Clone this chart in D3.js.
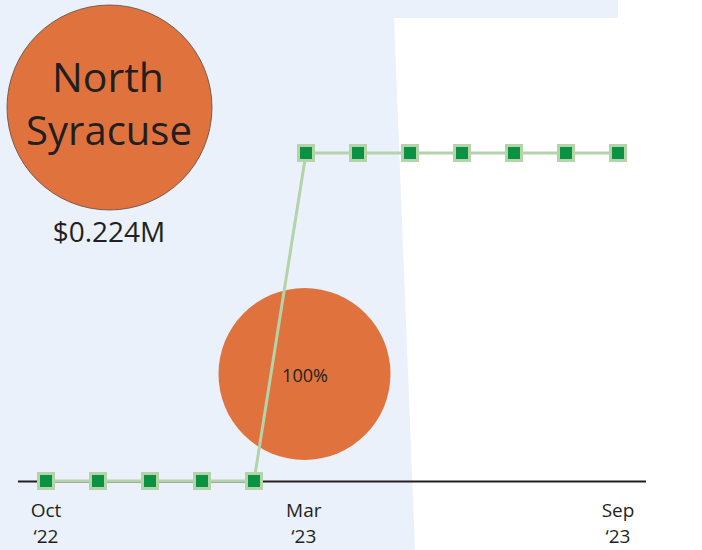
<!DOCTYPE html>
<html>
<head>
<meta charset="utf-8">
<script src="https://cdn.jsdelivr.net/npm/d3@7"></script>
<style>
  html, body { margin: 0; padding: 0; background: #ffffff; }
  svg { display: block; font-family: "Open Sans", "Noto Sans", sans-serif; }
</style>
</head>
<body>
<svg id="chart" width="702" height="550"></svg>
<script>
// Monthly cumulative amount (in $M) for North Syracuse, Oct '22 – Sep '23
const months = ["2022-10", "2022-11", "2022-12", "2023-01", "2023-02", "2023-03",
                "2023-04", "2023-05", "2023-06", "2023-07", "2023-08", "2023-09"];
const values = [0, 0, 0, 0, 0, 0.224, 0.224, 0.224, 0.224, 0.224, 0.224, 0.224];
const tickMonths = ["2022-10", "2023-03", "2023-09"];
const tickLabels = [["Oct", "\u201822"], ["Mar", "\u201823"], ["Sep", "\u201823"]];
const placeName = ["North", "Syracuse"];
const totalLabel = "$0.224M";
const shareValue = 1.0;   // share of the total, shown in the smaller bubble

const svg = d3.select("#chart");
const W = 702, H = 550;

// Background panels
svg.append("rect").attr("x", 0).attr("y", 0).attr("width", W).attr("height", H).attr("fill", "#ffffff");
svg.append("path")
  .attr("d", "M0,0 L618,0 L618,18 L394,18 L415,550 L0,550 Z")
  .attr("fill", "#eaf1fa");

const parse = d3.timeParse("%Y-%m");
const dates = months.map(parse);

const x = d3.scaleTime()
  .domain([dates[0], dates[dates.length - 1]])
  .range([46, 618]);
const xi = d3.scalePoint().domain(d3.range(months.length)).range([46, 618]);
const y = d3.scaleLinear().domain([0, 0.224]).range([481, 153]);

// Baseline
svg.append("line")
  .attr("x1", 18).attr("x2", 646)
  .attr("y1", y(0) + 0.5).attr("y2", y(0) + 0.5)
  .attr("stroke", "#231f20").attr("stroke-width", 2);

// Share bubble
const rShare = d3.scaleSqrt().domain([0, 1]).range([0, 86]);
svg.append("circle")
  .attr("cx", 304.5).attr("cy", 374)
  .attr("r", rShare(shareValue))
  .attr("fill", "#e0733d");
svg.append("text")
  .attr("x", 305).attr("y", 382)
  .attr("text-anchor", "middle")
  .attr("font-size", 18)
  .attr("fill", "#231f20")
  .text(d3.format(".0%")(shareValue));

// Line and markers
const pts = values.map((v, i) => ({ i, v }));
svg.append("path")
  .datum(pts)
  .attr("fill", "none")
  .attr("stroke", "#b3d3a8")
  .attr("stroke-width", 3)
  .attr("d", d3.line().x(d => xi(d.i)).y(d => y(d.v)));

svg.selectAll("rect.marker")
  .data(pts)
  .join("rect")
  .attr("class", "marker")
  .attr("x", d => xi(d.i) - 7.5)
  .attr("y", d => y(d.v) - 7.5)
  .attr("width", 15).attr("height", 15)
  .attr("fill", "#0b9142")
  .attr("stroke", "#b3d3a8")
  .attr("stroke-width", 3);

// Axis tick labels
const ticks = tickMonths.map((m, k) => ({ d: parse(m), lab: tickLabels[k] }));
const tg = svg.selectAll("g.tick").data(ticks).join("g")
  .attr("class", "tick")
  .attr("transform", d => `translate(${x(d.d)},0)`);
tg.append("text").attr("y", 517).attr("text-anchor", "middle")
  .attr("font-size", 19).attr("fill", "#231f20").text(d => d.lab[0]);
tg.append("text").attr("y", 543).attr("text-anchor", "middle")
  .attr("font-size", 19).attr("fill", "#231f20").text(d => d.lab[1]);

// Title bubble
svg.append("circle")
  .attr("cx", 109.5).attr("cy", 107.5).attr("r", 102.5)
  .attr("fill", "#e0733d")
  .attr("stroke", "#5a4a42").attr("stroke-width", 0.8);
svg.append("text").attr("x", 108).attr("y", 92)
  .attr("text-anchor", "middle").attr("font-size", 41).attr("fill", "#231f20")
  .text(placeName[0]);
svg.append("text").attr("x", 109).attr("y", 145)
  .attr("text-anchor", "middle").attr("font-size", 40).attr("fill", "#231f20")
  .text(placeName[1]);
svg.append("text").attr("x", 109).attr("y", 242)
  .attr("text-anchor", "middle").attr("font-size", 28).attr("fill", "#231f20")
  .text(totalLabel);
</script>
</body>
</html>
